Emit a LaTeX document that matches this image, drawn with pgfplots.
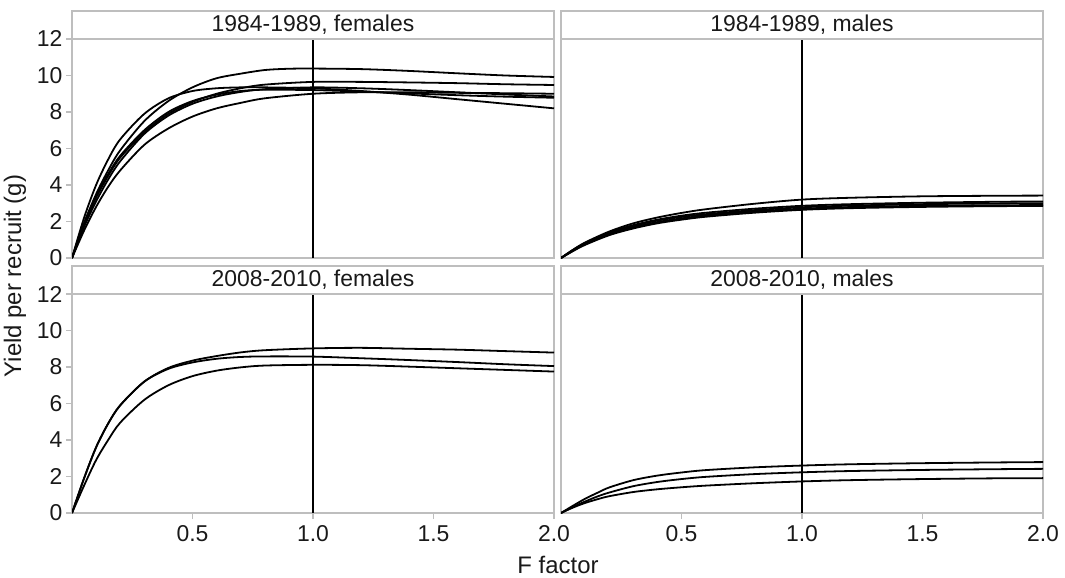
\documentclass[border=0pt]{standalone}
\usepackage{fontspec}
\setmainfont{Liberation Sans}
\usepackage{pgfplots}
\pgfplotsset{compat=1.18}
\definecolor{framegray}{RGB}{190,190,190}
\pgfplotsset{
  panel/.style={
    scale only axis, width=482bp, height=219bp, anchor=north west,
    xmin=0, xmax=2, ymin=0, ymax=12,
    axis line style={draw=framegray, line width=1.2bp},
    tick style={draw=framegray, line width=1.2bp},
    tick align=outside, major tick length=6bp,
    xtick pos=bottom, ytick pos=left,
    ticklabel style={font=\fontsize{23}{27}\selectfont, text=black!90},
    x tick label style={yshift=-3bp},
    /pgf/number format/assume math mode=true,
  },
  withx/.style={xtick={0.5,1,1.5,2}, xticklabels={0.5,1.0,1.5,2.0}},
  nox/.style={xtick=\empty},
  withy/.style={ytick={0,2,4,6,8,10,12}, yticklabels={0,2,4,6,8,10,12}},
  noy/.style={ytick=\empty},
  cv/.style={black, line width=1.8bp, smooth, mark=none},
  vl/.style={black, line width=1.3bp, mark=none},
}
\newcommand{\strip}[2]{%
  \draw[framegray, line width=1.2bp, fill=white] (#1.north west) rectangle ([yshift=28bp]#1.north east);
  \node[font=\fontsize{23}{27}\selectfont, text=black!90] at ([yshift=14bp]#1.north) {#2};}
\begin{document}
\begin{tikzpicture}
\useasboundingbox (0,0) rectangle (1065bp,-578bp);
% top-left: 1984-1989 females
\begin{axis}[panel, nox, withy, name=tl, at={(72bp,-39bp)}]
\addplot[vl] coordinates {(1,0) (1,12)};
\addplot[cv] coordinates {(0,0) (0.05,1.9) (0.1,3.5) (0.15,4.8) (0.2,5.9) (0.3,7.5) (0.4,8.6) (0.5,9.35) (0.6,9.85) (0.7,10.1) (0.8,10.3) (0.9,10.37) (1.0,10.38) (1.2,10.35) (1.4,10.25) (1.6,10.12) (1.8,10.0) (2.0,9.92)};
\addplot[cv] coordinates {(0,0) (0.05,2.2) (0.1,4.0) (0.15,5.4) (0.2,6.5) (0.3,7.9) (0.4,8.75) (0.5,9.15) (0.6,9.3) (0.7,9.35) (0.8,9.35) (1.0,9.3) (1.2,9.15) (1.4,8.95) (1.6,8.7) (1.8,8.45) (2.0,8.2)};
\addplot[cv] coordinates {(0,0) (0.05,1.5) (0.1,2.8) (0.15,3.9) (0.2,4.8) (0.3,6.2) (0.4,7.1) (0.5,7.75) (0.6,8.2) (0.7,8.5) (0.8,8.75) (1.0,9.0) (1.2,9.08) (1.4,9.08) (1.6,9.05) (1.8,9.03) (2.0,9.0)};
\addplot[cv] coordinates {(0,0) (0.05,1.8) (0.1,3.3) (0.15,4.5) (0.2,5.5) (0.3,6.9) (0.4,7.9) (0.5,8.55) (0.6,9.0) (0.7,9.3) (0.8,9.5) (1.0,9.65) (1.2,9.65) (1.4,9.62) (1.6,9.58) (1.8,9.52) (2.0,9.48)};
\addplot[cv] coordinates {(0,0) (0.05,1.7) (0.1,3.1) (0.15,4.3) (0.2,5.3) (0.3,6.8) (0.4,7.8) (0.5,8.45) (0.6,8.85) (0.7,9.1) (0.8,9.25) (1.0,9.35) (1.2,9.3) (1.4,9.2) (1.6,9.08) (1.8,8.96) (2.0,8.85)};
\addplot[cv] coordinates {(0,0) (0.05,1.9) (0.1,3.4) (0.15,4.6) (0.2,5.6) (0.3,7.0) (0.4,8.0) (0.5,8.6) (0.6,8.95) (0.7,9.15) (0.8,9.22) (1.0,9.2) (1.2,9.12) (1.4,9.02) (1.6,8.92) (1.8,8.84) (2.0,8.78)};
\end{axis}
\strip{tl}{1984-1989, females}
% top-right: 1984-1989 males
\begin{axis}[panel, nox, noy, name=tr, at={(561bp,-39bp)}]
\addplot[vl] coordinates {(1,0) (1,12)};
\addplot[cv] coordinates {(0,0) (0.05,0.45) (0.1,0.85) (0.2,1.45) (0.3,1.9) (0.4,2.22) (0.5,2.47) (0.6,2.67) (0.8,2.97) (1.0,3.2) (1.2,3.3) (1.5,3.38) (1.8,3.41) (2.0,3.42)};
\addplot[cv] coordinates {(0,0) (0.05,0.45) (0.1,0.82) (0.2,1.4) (0.3,1.8) (0.4,2.1) (0.5,2.32) (0.6,2.48) (0.8,2.7) (1.0,2.86) (1.2,2.95) (1.5,3.03) (1.8,3.08) (2.0,3.1)};
\addplot[cv] coordinates {(0,0) (0.05,0.42) (0.1,0.78) (0.2,1.35) (0.3,1.75) (0.4,2.05) (0.5,2.25) (0.6,2.4) (0.8,2.62) (1.0,2.78) (1.2,2.87) (1.5,2.95) (1.8,2.99) (2.0,3.0)};
\addplot[cv] coordinates {(0,0) (0.05,0.4) (0.1,0.75) (0.2,1.3) (0.3,1.68) (0.4,1.97) (0.5,2.17) (0.6,2.33) (0.8,2.55) (1.0,2.7) (1.2,2.79) (1.5,2.86) (1.8,2.89) (2.0,2.9)};
\addplot[cv] coordinates {(0,0) (0.05,0.38) (0.1,0.72) (0.2,1.25) (0.3,1.62) (0.4,1.9) (0.5,2.1) (0.6,2.26) (0.8,2.48) (1.0,2.64) (1.2,2.73) (1.5,2.8) (1.8,2.84) (2.0,2.85)};
\end{axis}
\strip{tr}{1984-1989, males}
% bottom-left: 2008-2010 females
\begin{axis}[panel, withx, withy, name=bl, at={(72bp,-294bp)}]
\addplot[vl] coordinates {(1,0) (1,12)};
\addplot[cv] coordinates {(0,0) (0.05,1.9) (0.1,3.6) (0.15,4.9) (0.2,5.9) (0.3,7.2) (0.4,7.95) (0.5,8.35) (0.6,8.6) (0.7,8.8) (0.8,8.92) (1.0,9.02) (1.2,9.05) (1.4,9.0) (1.6,8.95) (1.8,8.87) (2.0,8.79)};
\addplot[cv] coordinates {(0,0) (0.05,1.9) (0.1,3.6) (0.15,4.9) (0.2,5.9) (0.3,7.2) (0.4,7.9) (0.5,8.25) (0.6,8.45) (0.7,8.55) (0.8,8.58) (1.0,8.57) (1.2,8.48) (1.4,8.38) (1.6,8.27) (1.8,8.15) (2.0,8.05)};
\addplot[cv] coordinates {(0,0) (0.05,1.5) (0.1,2.9) (0.15,4.0) (0.2,4.95) (0.3,6.2) (0.4,7.0) (0.5,7.5) (0.6,7.8) (0.7,7.98) (0.8,8.08) (1.0,8.12) (1.2,8.1) (1.4,8.02) (1.6,7.93) (1.8,7.84) (2.0,7.75)};
\end{axis}
\strip{bl}{2008-2010, females}
% bottom-right: 2008-2010 males
\begin{axis}[panel, withx, noy, name=br, at={(561bp,-294bp)}]
\addplot[vl] coordinates {(1,0) (1,12)};
\addplot[cv] coordinates {(0,0) (0.05,0.4) (0.1,0.78) (0.15,1.1) (0.2,1.4) (0.3,1.8) (0.4,2.05) (0.5,2.22) (0.6,2.35) (0.8,2.5) (1.0,2.6) (1.2,2.67) (1.5,2.73) (1.8,2.77) (2.0,2.79)};
\addplot[cv] coordinates {(0,0) (0.05,0.33) (0.1,0.63) (0.15,0.9) (0.2,1.12) (0.3,1.47) (0.4,1.7) (0.5,1.86) (0.6,1.98) (0.8,2.13) (1.0,2.23) (1.2,2.3) (1.5,2.36) (1.8,2.4) (2.0,2.42)};
\addplot[cv] coordinates {(0,0) (0.05,0.3) (0.1,0.55) (0.15,0.75) (0.2,0.92) (0.3,1.15) (0.4,1.3) (0.5,1.41) (0.6,1.5) (0.8,1.63) (1.0,1.73) (1.2,1.8) (1.5,1.86) (1.8,1.9) (2.0,1.91)};
\end{axis}
\strip{br}{2008-2010, males}
\node[rotate=90, font=\fontsize{24}{28}\selectfont, text=black!90] at (15bp,-276bp) {Yield per recruit (g)};
\node[font=\fontsize{24}{28}\selectfont, text=black!90] at (558bp,-565bp) {F factor};
\end{tikzpicture}
\end{document}
